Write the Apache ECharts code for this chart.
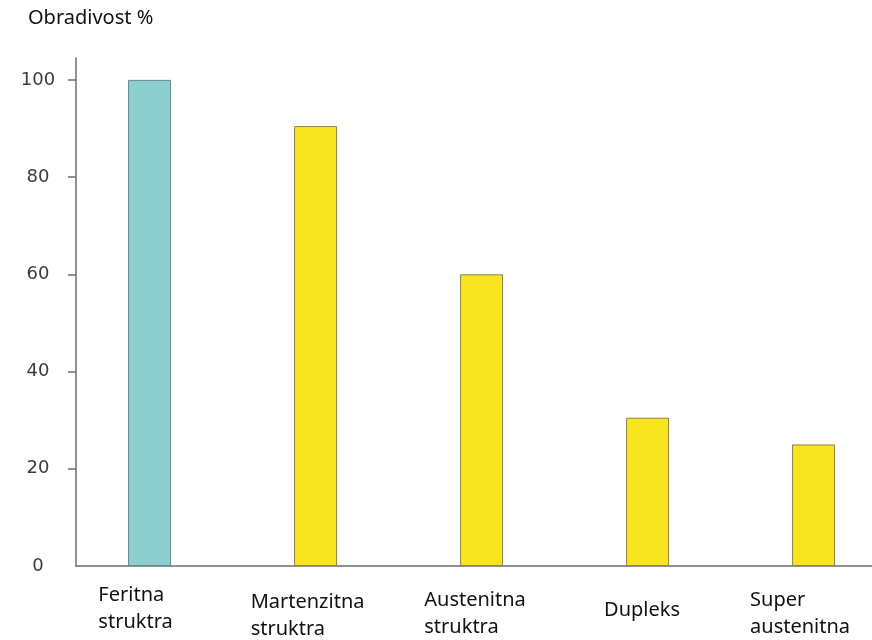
<!DOCTYPE html>
<html>
<head>
<meta charset="utf-8">
<title>Obradivost %</title>
<script src="https://cdn.jsdelivr.net/npm/echarts@6/dist/echarts.min.js"></script>
<style>
    html, body { margin: 0; padding: 0; background: #ffffff; }
    #chart { width: 872px; height: 640px; }
</style>
</head>
<body>
<div id="chart"></div>
<script>
// Categories (x axis) and values
const categories = [
    'Feritna\nstruktra',
    'Martenzitna\nstruktra',
    'Austenitna\nstruktra',
    'Dupleks',
    'Super\naustenitna'
];
const values = [100, 90.5, 60, 30.5, 25];
const barColors = ['#8dcfcf', '#f8e520', '#f8e520', '#f8e520', '#f8e520'];
const borderColors = ['#5f8c8c', '#8c8440', '#8c8440', '#8c8440', '#8c8440'];
const yLabels = [0, 20, 40, 60, 80, 100];
const yTicks = [20, 40, 60, 80, 100];

// label layout per category: [gap above, right padding]
const LABEL_PAD = [[12, 28], [19, 16], [17, 13], [27, 11], [17, 27]];

const CHART_CONFIG = {
    containerId: 'chart',
    axisColor: '#6e6e6e',
    labelFont: '"Noto Sans", "Open Sans", sans-serif'
};

/**
 * Build rich styles for the x labels (a spacer line + the text)
 */
function buildRich() {
    const rich = {};
    LABEL_PAD.forEach((p, i) => {
        rich['g' + i] = {
            fontSize: 1,
            lineHeight: p[0],
            height: p[0]
        };
        rich['s' + i] = {
            fontFamily: CHART_CONFIG.labelFont,
            fontSize: 20,
            lineHeight: 27,
            color: '#111111',
            align: 'left',
            padding: [0, p[1], 0, 0]
        };
    });
    return rich;
}

function initChart() {
    const container = document.getElementById(CHART_CONFIG.containerId);
    const chart = echarts.init(container, null, { renderer: 'canvas' });

    const data = values.map((v, i) => ({
        value: [i, v],
        itemStyle: {
            color: barColors[i],
            borderColor: borderColors[i],
            borderWidth: 1
        }
    }));

    const option = {
        animation: false,
        backgroundColor: '#ffffff',
        title: {
            text: 'Obradivost %',
            left: 23,
            top: 3,
            textStyle: {
                fontFamily: CHART_CONFIG.labelFont,
                fontSize: 20,
                fontWeight: 'normal',
                color: '#111111'
            }
        },
        grid: {
            left: 76,
            right: 0,
            top: 58,
            bottom: 74,
            containLabel: false,
            outerBoundsMode: 'none'
        },
        xAxis: {
            type: 'value',
            min: -0.443,
            max: 4.352,
            axisLine: {
                show: true,
                onZero: false,
                lineStyle: { color: CHART_CONFIG.axisColor, width: 1.5 }
            },
            axisTick: { show: false },
            splitLine: { show: false },
            axisLabel: {
                customValues: categories.map((c, i) => i),
                margin: 4,
                formatter: function (value) {
                    const i = Math.round(value);
                    const lines = categories[i].split('\n').map(t => '{s' + i + '|' + t + '}');
                    return '{g' + i + '| }\n' + lines.join('\n');
                },
                rich: buildRich()
            }
        },
        yAxis: {
            type: 'value',
            min: 0,
            max: 104.5,
            interval: 20,
            axisLine: {
                show: true,
                onZero: false,
                lineStyle: { color: CHART_CONFIG.axisColor, width: 1.5 }
            },
            axisTick: {
                show: true,
                length: 8,
                customValues: yTicks,
                lineStyle: { color: CHART_CONFIG.axisColor, width: 1.5 }
            },
            splitLine: { show: false },
            axisLabel: {
                customValues: yLabels,
                align: 'center',
                margin: 38,
                fontFamily: '"DejaVu Sans", sans-serif',
                fontSize: 18,
                color: '#3a3a3a'
            }
        },
        series: [{
            type: 'bar',
            barWidth: 43,
            data: data
        }]
    };

    chart.setOption(option);
}

initChart();
</script>
</body>
</html>
